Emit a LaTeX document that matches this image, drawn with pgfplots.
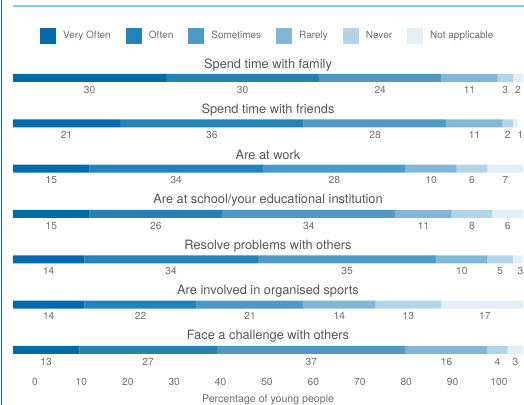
\documentclass[border=0pt]{standalone}
\usepackage{fontspec}
\setmainfont{TeX Gyre Heros}
\usepackage{pgfplots}
\usepackage{pgfplotstable}
\pgfplotsset{compat=1.18}
\definecolor{cVO}{HTML}{006AAD}
\definecolor{cOF}{HTML}{2482BA}
\definecolor{cSO}{HTML}{4D9AC8}
\definecolor{cRA}{HTML}{80B7D7}
\definecolor{cNE}{HTML}{B2D4E8}
\definecolor{cNA}{HTML}{E2EFF7}
\definecolor{topline}{HTML}{88CEEC}
\definecolor{leftline}{HTML}{1565A8}
\definecolor{titlegray}{HTML}{555555}
\definecolor{labgray}{HTML}{6E6E6E}

\pgfplotstableread{
y vo of so ra ne na
-78     30 30 24 11 3 2
-123.33 21 36 28 11 2 1
-168.67 15 34 28 10 6 7
-214    15 26 34 11 8 6
-259.33 14 34 35 10 5 3
-304.67 14 22 21 14 13 17
-350    13 27 37 16 4 3
}\bars

\pgfplotstableread{
x y lab
15   -89.5 30
45   -89.5 30
72   -89.5 24
89.5 -89.5 11
96.5 -89.5 3
99   -89.5 2
10.5 -134.83 21
39   -134.83 36
71   -134.83 28
90.5 -134.83 11
97   -134.83 2
99.5 -134.83 1
7.5  -180.17 15
32   -180.17 34
63   -180.17 28
82   -180.17 10
90   -180.17 6
96.5 -180.17 7
7.5  -225.5 15
28   -225.5 26
58   -225.5 34
80.5 -225.5 11
90   -225.5 8
97   -225.5 6
7    -270.83 14
31   -270.83 34
65.5 -270.83 35
88   -270.83 10
95.5 -270.83 5
99.5 -270.83 3
7    -316.17 14
25   -316.17 22
46.5 -316.17 21
64   -316.17 14
77.5 -316.17 13
92.5 -316.17 17
6.5  -361.5 13
26.5 -361.5 27
58.5 -361.5 37
85   -361.5 16
95   -361.5 4
98.5 -361.5 3
}\vals

\begin{document}
\begin{tikzpicture}
\begin{axis}[
  at={(13bp,30bp)}, anchor=south west,
  scale only axis,
  width=510bp, height=375bp,
  xmin=0, xmax=100, ymin=-375, ymax=0,
  xbar stacked,
  bar width=8bp,
  axis line style={draw=none},
  major tick length=0pt,
  ytick=\empty,
  xtick={4.31,13.41,22.51,31.61,40.71,49.8,58.9,68.0,77.1,86.2,95.29},
  xticklabels={0,10,20,30,40,50,60,70,80,90,100},
  xticklabel style={font=\fontsize{10.2bp}{12bp}\selectfont, text=labgray},
  legend image code/.code={\draw[#1, draw=none] (0bp,-8bp) rectangle (16bp,8bp);},
  legend columns=6,
  legend style={at={(axis cs:5.29,-36)}, anchor=west, draw=none, fill=none,
    inner sep=0pt, nodes={inner sep=0pt}, font=\fontsize{10bp}{12bp}\selectfont, text=labgray,
    /tikz/every odd column/.append style={column sep=7bp},
    /tikz/every even column/.append style={column sep=15bp}},
  legend cell align=left,
]
\addplot[fill=cVO, draw=none] table[x=vo, y=y] \bars; \addlegendentry{Very Often}
\addplot[fill=cOF, draw=none] table[x=of, y=y] \bars; \addlegendentry{Often}
\addplot[fill=cSO, draw=none] table[x=so, y=y] \bars; \addlegendentry{Sometimes}
\addplot[fill=cRA, draw=none] table[x=ra, y=y] \bars; \addlegendentry{Rarely}
\addplot[fill=cNE, draw=none] table[x=ne, y=y] \bars; \addlegendentry{Never}
\addplot[fill=cNA, draw=none] table[x=na, y=y] \bars; \addlegendentry{Not applicable}
\end{axis}
\begin{axis}[
  at={(13bp,30bp)}, anchor=south west,
  scale only axis,
  width=510bp, height=375bp,
  xmin=0, xmax=100, ymin=-375, ymax=0,
  hide axis, clip=false,
]
\addplot[only marks, mark=none, nodes near coords, point meta=explicit symbolic,
  nodes near coords align={center},
  every node near coord/.append style={font=\fontsize{10.2bp}{12bp}\selectfont, text=labgray, inner sep=0pt}]
  table[x=x, y=y, meta=lab] \vals;
\addplot[only marks, mark=none, nodes near coords, point meta=explicit symbolic,
  nodes near coords align={center},
  every node near coord/.append style={font=\fontsize{12.8bp}{15bp}\selectfont, text=titlegray, inner sep=0pt}]
  coordinates {
  (50,-64.67) [Spend time with family]
  (50,-110) [Spend time with friends]
  (50,-155.33) [Are at work]
  (50,-200.67) [Are at school/your educational institution]
  (50,-246) [Resolve problems with others]
  (50,-291.33) [Are involved in organised sports]
  (50,-336.67) [Face a challenge with others]
  };
\node[font=\fontsize{10.6bp}{12bp}\selectfont, text=labgray, inner sep=0pt] at (axis cs:50,-399.5) {Percentage of young people};
\end{axis}
\draw[leftline, line width=1.3bp] (1.5bp,0bp) -- (1.5bp,405bp);
\draw[topline, line width=2bp] (13bp,399bp) -- (524bp,399bp);
\pgfresetboundingbox
\path[use as bounding box] (0bp,0bp) rectangle (524bp,405bp);
\end{tikzpicture}
\end{document}
